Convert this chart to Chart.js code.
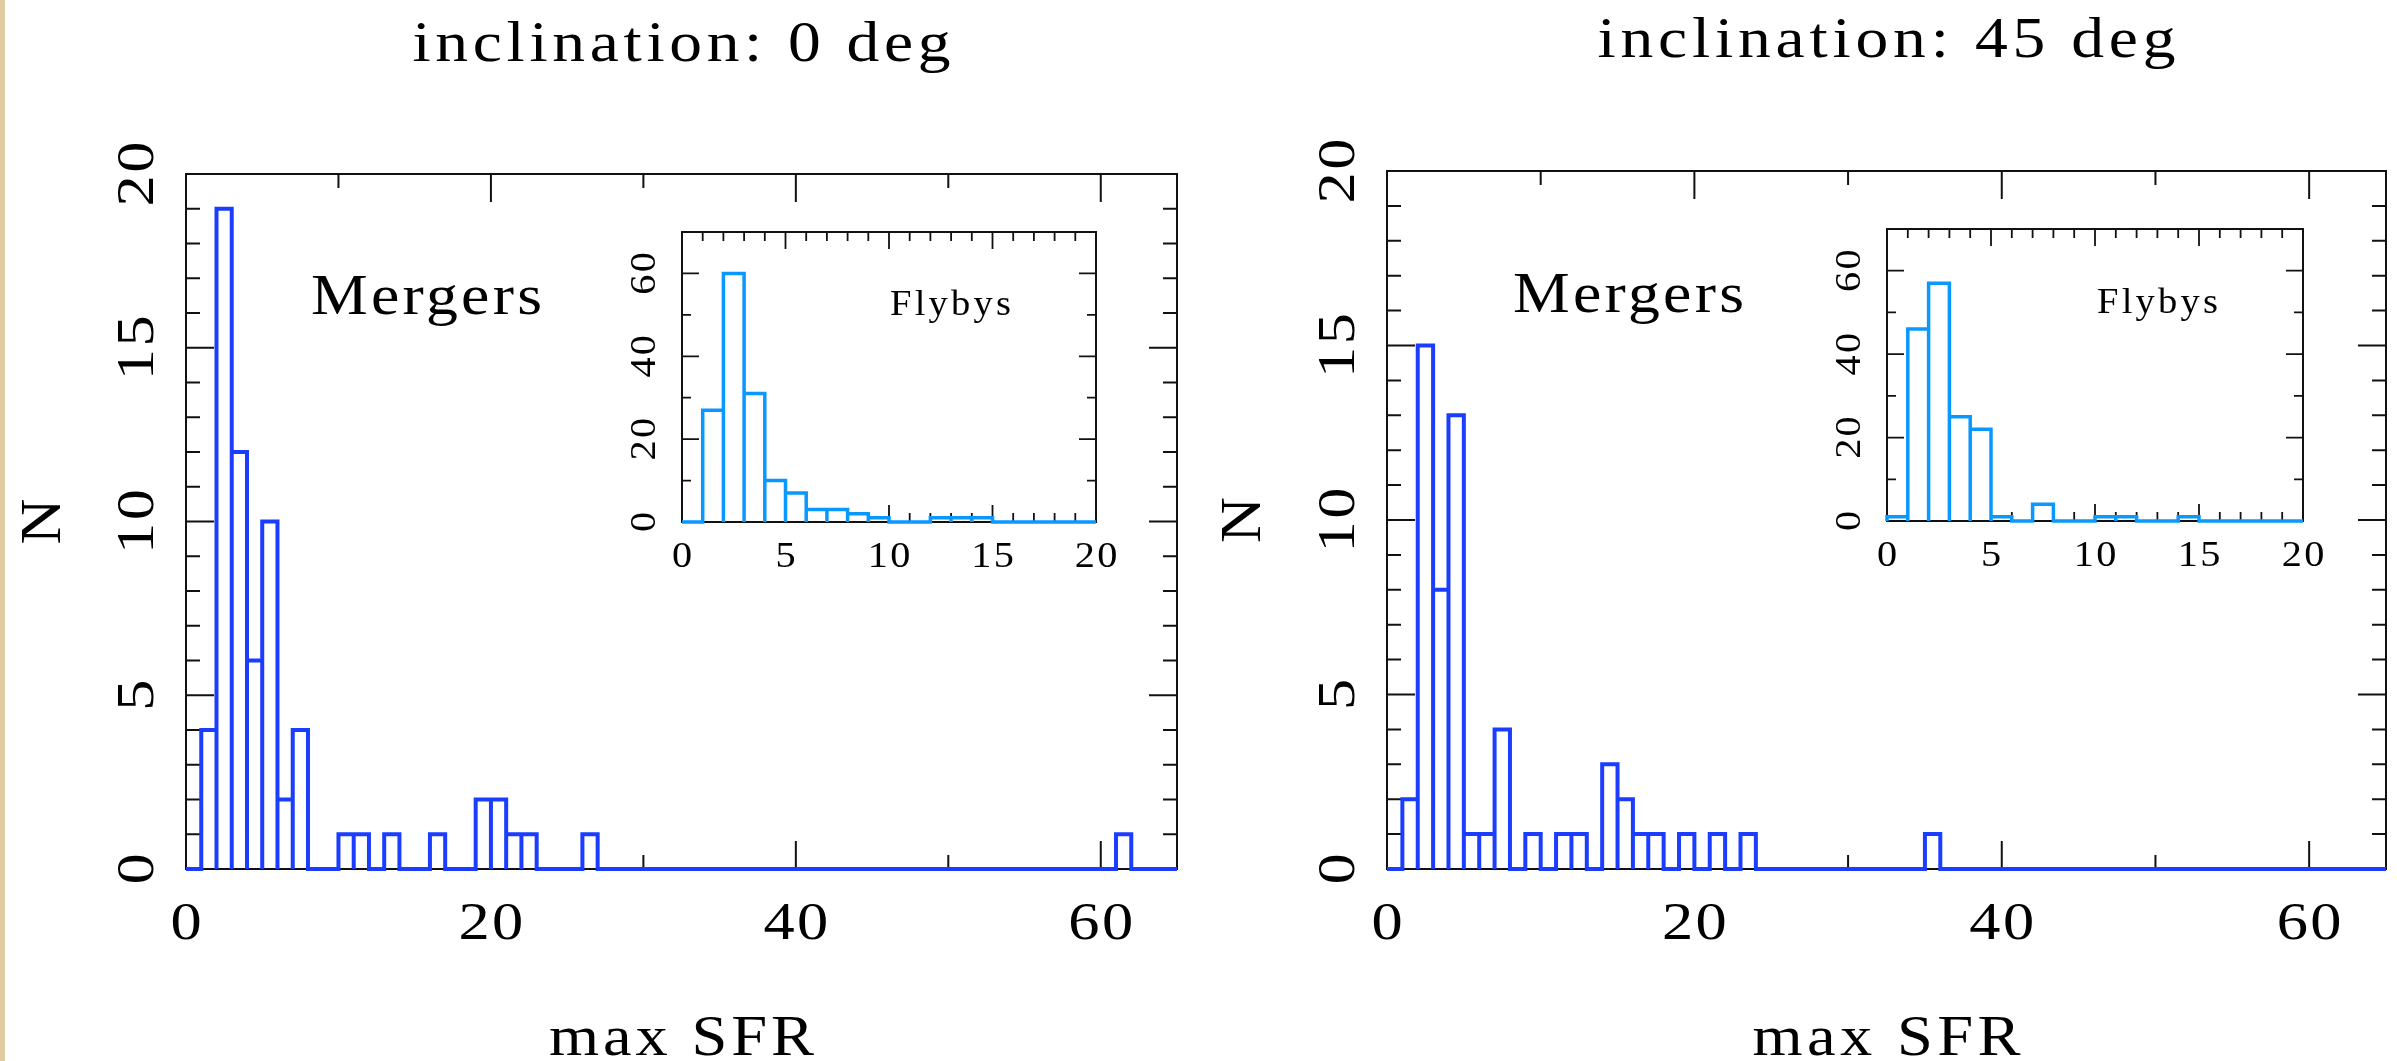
<!DOCTYPE html>
<html>
<head>
<meta charset="utf-8">
<title>max SFR histograms</title>
<script src="https://cdn.jsdelivr.net/npm/chart.js@4.4.0/dist/chart.umd.min.js"></script>
<style>
    html, body { margin: 0; padding: 0; background: #fff; }
    body { width: 2397px; height: 1061px; position: relative; overflow: hidden; }
    .edge { position: absolute; left: 0; top: 0; width: 5px; height: 1061px; background: #e0cba2; }
    .panel { position: absolute; }
    .panel canvas { display: block; }
</style>
</head>
<body>
<div class="edge"></div>
<div class="panel" style="left:0;top:0"><canvas id="main-0" width="1200" height="1061"></canvas></div>
<div class="panel" style="left:1200px;top:0"><canvas id="main-45" width="1197" height="1061"></canvas></div>
<div class="panel" style="left:600px;top:200px"><canvas id="inset-0" width="560" height="400"></canvas></div>
<div class="panel" style="left:1800px;top:200px"><canvas id="inset-45" width="580" height="400"></canvas></div>

<script>
// Histogram counts, bins of width 1 in max SFR starting at 0
const mergersIncl0 = [
    0, 4, 19, 12, 6, 10, 2, 4, 0, 0,
    1, 1, 0, 1, 0, 0, 1, 0, 0, 2,
    2, 1, 1, 0, 0, 0, 1, 0, 0, 0,
    0, 0, 0, 0, 0, 0, 0, 0, 0, 0,
    0, 0, 0, 0, 0, 0, 0, 0, 0, 0,
    0, 0, 0, 0, 0, 0, 0, 0, 0, 0,
    0, 1
];
const mergersIncl45 = [
    0, 2, 15, 8, 13, 1, 1, 4, 0, 1,
    0, 1, 1, 0, 3, 2, 1, 1, 0, 1,
    0, 1, 0, 1, 0, 0, 0, 0, 0, 0,
    0, 0, 0, 0, 0, 1
];
const flybysIncl0 = [0, 27, 60, 31, 10, 7, 3, 3, 2, 1, 0, 0, 1, 1, 1, 0, 0, 0, 0, 0];
const flybysIncl45 = [1, 46, 57, 25, 22, 1, 0, 4, 0, 0, 1, 1, 0, 0, 1, 0, 0, 0, 0, 0];

// Tick labels
const mainXTicks = [0, 20, 40, 60];
const mainYTicks = [0, 5, 10, 15, 20];
const insetXTicks = [0, 5, 10, 15, 20];
const insetYTicks = [0, 20, 40, 60];

const MAIN_BLUE = '#1a3dff';
const INSET_BLUE = '#0a98ff';
const INK = '#111';

/**
 * Outline of a histogram: every bin is drawn as an open box down to zero
 */
function histOutline(counts, xMax) {
    const pts = [{ x: 0, y: 0 }];
    counts.forEach((n, i) => {
        pts.push({ x: i, y: n }, { x: i + 1, y: n }, { x: i + 1, y: 0 });
    });
    if (counts.length < xMax) pts.push({ x: xMax, y: 0 });
    return pts;
}

/**
 * Text in a wide stroke-font look: glyphs stretched horizontally,
 * then letter spacing to reach the wanted width
 */
function spacedText(ctx, text, x, y, o) {
    const stretch = o.stretch || 1;
    ctx.save();
    ctx.translate(x, y);
    if (o.rotate) ctx.rotate(o.rotate);
    ctx.scale(stretch, 1);
    ctx.font = `${o.size}px "Liberation Serif", "Times New Roman", serif`;
    ctx.fillStyle = '#000';
    ctx.textBaseline = 'alphabetic';
    ctx.textAlign = 'left';
    ctx.letterSpacing = '0px';
    const natural = ctx.measureText(text).width;
    let spacing = o.spacing || 0;
    if (o.width && text.length > 1) spacing = Math.max(0, (o.width / stretch - natural) / (text.length - 1));
    const total = natural + spacing * (text.length - 1);
    ctx.letterSpacing = spacing + 'px';
    ctx.fillText(text, o.align === 'left' ? 0 : -total / 2, 0);
    ctx.restore();
}

function isMultiple(v, step) {
    const r = v / step;
    return Math.abs(r - Math.round(r)) < 1e-6;
}

// Frame with inward ticks on all four sides, plus labels and titles
const pgFramePlugin = {
    id: 'pgFrame',
    beforeDatasetsDraw(chart, args, o) {
        const { ctx, chartArea: a } = chart;
        const xs = chart.scales.x, ys = chart.scales.y;
        ctx.save();
        ctx.strokeStyle = INK;
        ctx.lineWidth = o.tickWidth;
        ctx.beginPath();
        for (let i = 1; i * o.xMinor < xs.max - 1e-6; i++) {
            const v = i * o.xMinor;
            const len = isMultiple(v, o.xMajor) ? o.majorLen : o.minorLen;
            const px = xs.getPixelForValue(v);
            ctx.moveTo(px, a.bottom); ctx.lineTo(px, a.bottom - len);
            ctx.moveTo(px, a.top); ctx.lineTo(px, a.top + len);
        }
        for (let i = 1; i * o.yMinor < ys.max - 1e-6; i++) {
            const v = i * o.yMinor;
            const len = isMultiple(v, o.yMajor) ? o.majorLen : o.minorLen;
            const py = ys.getPixelForValue(v);
            ctx.moveTo(a.left, py); ctx.lineTo(a.left + len, py);
            ctx.moveTo(a.right, py); ctx.lineTo(a.right - len, py);
        }
        ctx.stroke();
        ctx.lineWidth = o.frameWidth;
        ctx.strokeRect(a.left, a.top, a.right - a.left, a.bottom - a.top);
        ctx.restore();
    },
    afterDraw(chart, args, o) {
        const { ctx, chartArea: a } = chart;
        const xs = chart.scales.x, ys = chart.scales.y;
        const cx = (a.left + a.right) / 2;
        const cy = (a.top + a.bottom) / 2;
        const lab = { size: o.labelSize, spacing: o.labelSpacing, stretch: o.labelStretch };

        o.xTicks.forEach(v => spacedText(ctx, String(v), xs.getPixelForValue(v), a.bottom + o.xLabelDy, lab));
        o.yTicks.forEach(v => spacedText(ctx, String(v), a.left + o.yLabelDx, ys.getPixelForValue(v),
            { ...lab, rotate: -Math.PI / 2 }));

        if (o.title) spacedText(ctx, o.title.text, cx, a.top + o.title.dy, o.title);
        if (o.note) spacedText(ctx, o.note.text, a.left + o.note.dx, a.top + o.note.dy, { ...o.note, align: 'left' });
        if (o.xTitle) spacedText(ctx, o.xTitle.text, cx, a.bottom + o.xTitle.dy, o.xTitle);
        if (o.yTitle) spacedText(ctx, o.yTitle.text, a.left + o.yTitle.dx, cy, { ...o.yTitle, rotate: -Math.PI / 2 });
    }
};

function renderHistogram(canvasId, counts, cfg) {
    const canvas = document.getElementById(canvasId);
    return new Chart(canvas, {
        type: 'line',
        data: {
            datasets: [{
                data: histOutline(counts, cfg.xMax),
                borderColor: cfg.color,
                borderWidth: cfg.lineWidth,
                borderJoinStyle: 'miter',
                borderCapStyle: 'butt',
                pointRadius: 0,
                tension: 0,
                fill: false,
                clip: 8
            }]
        },
        options: {
            responsive: false,
            animation: false,
            events: [],
            layout: { padding: cfg.padding },
            scales: {
                x: { type: 'linear', min: 0, max: cfg.xMax, display: false },
                y: { type: 'linear', min: 0, max: cfg.yMax, display: false }
            },
            plugins: {
                legend: { display: false },
                tooltip: { enabled: false },
                pgFrame: cfg.frame
            }
        },
        plugins: [pgFramePlugin]
    });
}

const mainFrame = {
    xMinor: 10, xMajor: 20, yMinor: 1, yMajor: 5,
    majorLen: 28, minorLen: 14, tickWidth: 2, frameWidth: 2,
    xTicks: mainXTicks, yTicks: mainYTicks,
    labelSize: 52, labelSpacing: 2, labelStretch: 1.2, xLabelDy: 70, yLabelDx: -33
};
const insetFrame = {
    xMinor: 1, xMajor: 5, yMinor: 10, yMajor: 20,
    majorLen: 17, minorLen: 9, tickWidth: 1.8, frameWidth: 2,
    xTicks: insetXTicks, yTicks: insetYTicks,
    labelSize: 35, labelSpacing: 2, labelStretch: 1.15, xLabelDy: 45, yLabelDx: -27
};

renderHistogram('main-0', mergersIncl0, {
    xMax: 65, yMax: 20, color: MAIN_BLUE, lineWidth: 4,
    padding: { left: 186, right: 23, top: 174, bottom: 192 },
    frame: {
        ...mainFrame,
        title: { text: 'inclination: 0 deg', dy: -113, size: 57, width: 538, stretch: 1.15 },
        note: { text: 'Mergers', dx: 125, dy: 140, size: 58, width: 231, stretch: 1.1 },
        xTitle: { text: 'max SFR', dy: 186, size: 56, width: 265, stretch: 1.15 },
        yTitle: { text: 'N', dx: -126, size: 58, stretch: 1.1 }
    }
});

renderHistogram('main-45', mergersIncl45, {
    xMax: 65, yMax: 20, color: MAIN_BLUE, lineWidth: 4,
    padding: { left: 187, right: 11, top: 171, bottom: 192 },
    frame: {
        ...mainFrame,
        title: { text: 'inclination: 45 deg', dy: -114, size: 57, width: 578, stretch: 1.15 },
        note: { text: 'Mergers', dx: 126, dy: 141, size: 58, width: 231, stretch: 1.1 },
        xTitle: { text: 'max SFR', dy: 186, size: 56, width: 268, stretch: 1.15 },
        yTitle: { text: 'N', dx: -127, size: 58, stretch: 1.1 }
    }
});

renderHistogram('inset-0', flybysIncl0, {
    xMax: 20, yMax: 70, color: INSET_BLUE, lineWidth: 3.5,
    padding: { left: 82, right: 64, top: 32, bottom: 78 },
    frame: {
        ...insetFrame,
        note: { text: 'Flybys', dx: 208, dy: 83, size: 35, width: 121, stretch: 1.1 }
    }
});

renderHistogram('inset-45', flybysIncl45, {
    xMax: 20, yMax: 70, color: INSET_BLUE, lineWidth: 3.5,
    padding: { left: 87, right: 77, top: 29, bottom: 79 },
    frame: {
        ...insetFrame,
        note: { text: 'Flybys', dx: 210, dy: 84, size: 35, width: 121, stretch: 1.1 }
    }
});
</script>
</body>
</html>
